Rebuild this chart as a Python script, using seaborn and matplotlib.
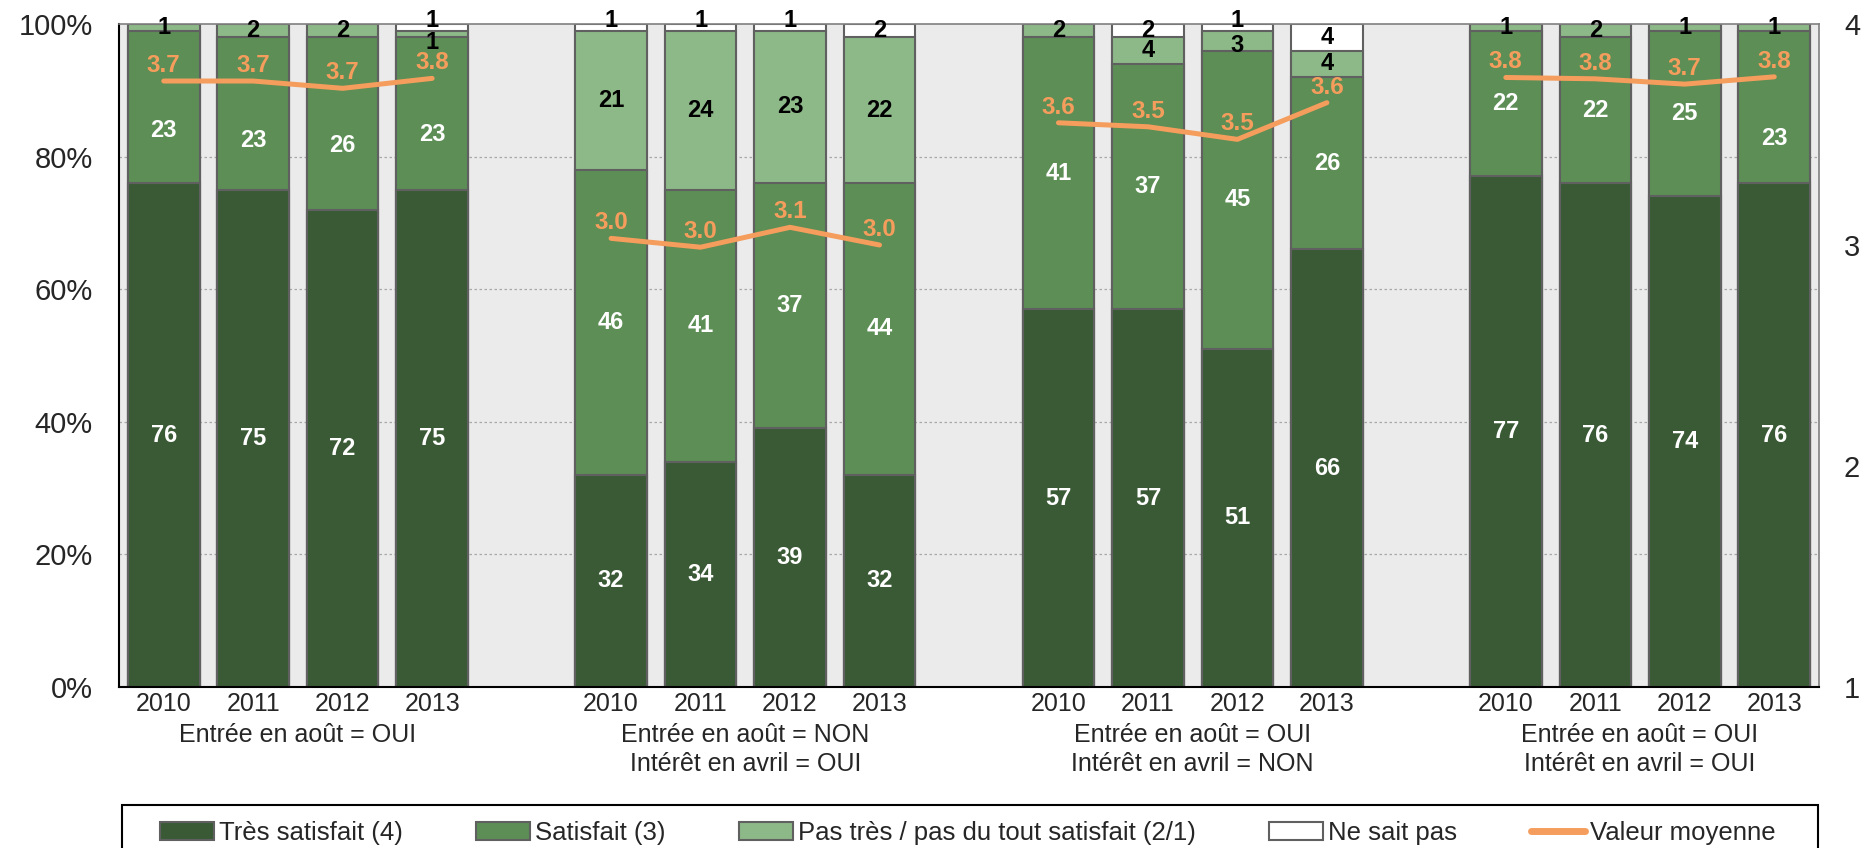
import pandas as pd
import numpy as np
import seaborn as sns
import matplotlib.pyplot as plt
from matplotlib.patches import Patch, Rectangle
from matplotlib.lines import Line2D


# donnees
annees = ["2010", "2011", "2012", "2013"]
groupes = ["Entrée en août = OUI",
           "Entrée en août = NON\nIntérêt en avril = OUI",
           "Entrée en août = OUI\nIntérêt en avril = NON",
           "Entrée en août = OUI\nIntérêt en avril = OUI"]
tres_satisfait = [76, 75, 72, 75, 32, 34, 39, 32, 57, 57, 51, 66, 77, 76, 74, 76]
satisfait = [23, 23, 26, 23, 46, 41, 37, 44, 41, 37, 45, 26, 22, 22, 25, 23]
pas_satisfait = [1, 2, 2, 1, 21, 24, 23, 22, 2, 4, 3, 4, 1, 2, 1, 1]
ne_sait_pas = [0, 0, 0, 1, 1, 1, 1, 2, 0, 2, 1, 4, 0, 0, 0, 0]
valeur_moyenne = [3.742, 3.742, 3.709, 3.754, 3.03, 2.99, 3.08, 3.00,
                  3.553, 3.535, 3.478, 3.644, 3.758, 3.752, 3.728, 3.761]
noms_series = ["Très satisfait (4)", "Satisfait (3)",
               "Pas très / pas du tout satisfait (2/1)", "Ne sait pas", "Valeur moyenne"]

# decalage vertical (en points de %) des etiquettes "Satisfait" deplacees a la main
decal_sat = [-3.5, -4, -3.3, -3.2, 0, 0, 0, 0, 0, 0, 0, 0, 0, 0, 0, -4.7]

c_tres = "#3A5A36"
c_sat = "#5C8E55"
c_pas = "#8DB888"
c_nsp = "#FFFFFF"
c_moy = "#F59D5C"
c_bord = "#606060"

# une case vide entre chaque groupe
pos = [g * 5 + i for g in range(len(groupes)) for i in range(len(annees))]
df = pd.DataFrame({"pos": pos,
                   "annee": annees * len(groupes),
                   "groupe": [g for g in range(len(groupes)) for _ in annees],
                   "tres": tres_satisfait, "sat": satisfait,
                   "pas": pas_satisfait, "nsp": ne_sait_pas,
                   "moy": valeur_moyenne, "dsat": decal_sat})
df["cum1"] = df["tres"]
df["cum2"] = df["cum1"] + df["sat"]
df["cum3"] = df["cum2"] + df["pas"]
df["cum4"] = df["cum3"] + df["nsp"]

sns.set_style("white")
plt.rcParams["font.family"] = ["Liberation Sans", "DejaVu Sans"]

fig = plt.figure(figsize=(18.63, 8.48), dpi=100)
ax = fig.add_axes([119 / 1863, 1 - 687 / 848, (1819 - 119) / 1863, (687 - 24) / 848])
ax.set_facecolor("#EBEBEB")
ax.set_axisbelow(True)
for y in [20, 40, 60, 80]:
    ax.axhline(y, color="#A8A8A8", lw=0.9, ls=(0, (2, 2)), zorder=0)

# barres empilees : on dessine les cumuls du plus haut au plus bas
for col, couleur in [("cum4", c_nsp), ("cum3", c_pas), ("cum2", c_sat), ("cum1", c_tres)]:
    sns.barplot(data=df, x="pos", y=col, native_scale=True, color=couleur,
                saturation=1, width=0.8, edgecolor=c_bord, linewidth=1.5,
                errorbar=None, ax=ax)

# etiquettes des segments
for _, r in df.iterrows():
    bas = 0
    for col, txtcol in [("tres", "white"), ("sat", "white"), ("pas", "black"), ("nsp", "black")]:
        v = r[col]
        y = bas + v / 2
        if col == "sat":
            y += r["dsat"]
        # petits segments du haut : on ecarte un peu les etiquettes
        if col == "nsp" and v < 2:
            y += 1.0
        if col == "pas" and v < 2 and r["nsp"] > 0:
            y -= 1.3
        elif col == "pas" and v < 4 and r["nsp"] > 0 and r["nsp"] < 2:
            y -= 0.7
        if v > 0:
            ax.text(r["pos"], y, str(int(v)), ha="center", va="center",
                    color=txtcol, fontsize=17, fontweight="bold")
        bas += v

ax.set_xlim(-0.5, 18.5)
ax.set_ylim(0, 100)
ax.set_yticks([0, 20, 40, 60, 80, 100])
ax.set_yticklabels([f"{v}%" for v in [0, 20, 40, 60, 80, 100]])
ax.set_xticks(df["pos"])
ax.set_xticklabels(df["annee"])
ax.tick_params(axis="y", length=0, pad=19, labelsize=21)
ax.tick_params(axis="x", length=0, pad=3.5, labelsize=18)
ax.set_xlabel("")
ax.set_ylabel("")
for s in ["left", "bottom"]:
    ax.spines[s].set_color("black")
    ax.spines[s].set_linewidth(1.5)
for s in ["top", "right"]:
    ax.spines[s].set_color("#808080")
    ax.spines[s].set_linewidth(1.2)

for g, nom in enumerate(groupes):
    ax.text(g * 5 + 1.5, -0.055, nom, transform=ax.get_xaxis_transform(),
            ha="center", va="top", fontsize=18, linespacing=1.25)

# axe secondaire : valeur moyenne
ax2 = ax.twinx()
for g in range(len(groupes)):
    d = df[df["groupe"] == g]
    sns.lineplot(x=d["pos"], y=d["moy"], color=c_moy, lw=3.6, ax=ax2)
    for _, r in d.iterrows():
        ax2.annotate(f"{r['moy']:.1f}", (r["pos"], r["moy"]), xytext=(0, 3),
                     textcoords="offset points", ha="center", va="bottom",
                     color=c_moy, fontsize=17.5, fontweight="bold")
ax2.set_ylim(1, 4)
ax2.set_yticks([1, 2, 3, 4])
ax2.tick_params(axis="y", length=0, pad=18, labelsize=21)
ax2.set_ylabel("")
ax2.set_xlabel("")
for s in ax2.spines.values():
    s.set_visible(False)
ax2.set_xlim(-0.5, 18.5)

# legende
poignees = [Patch(facecolor=c_tres, edgecolor=c_bord, lw=1.5),
            Patch(facecolor=c_sat, edgecolor=c_bord, lw=1.5),
            Patch(facecolor=c_pas, edgecolor=c_bord, lw=1.5),
            Patch(facecolor=c_nsp, edgecolor=c_bord, lw=1.5),
            Line2D([0], [0], color=c_moy, lw=5)]
fig.legend(poignees, noms_series, loc="center left",
           bbox_to_anchor=(160 / 1863, 1 - 833 / 848), ncol=5, frameon=False,
           fontsize=18.5, handlelength=2.1, handleheight=0.72, handletextpad=0.2,
           columnspacing=2.85, borderpad=0, borderaxespad=0)
fig.add_artist(Rectangle((122 / 1863, -0.05), (1818 - 122) / 1863, 0.05 + 1 - 805 / 848,
                         transform=fig.transFigure, fill=False, edgecolor="black", lw=1.5))

plt.savefig("out.png", dpi=100)
